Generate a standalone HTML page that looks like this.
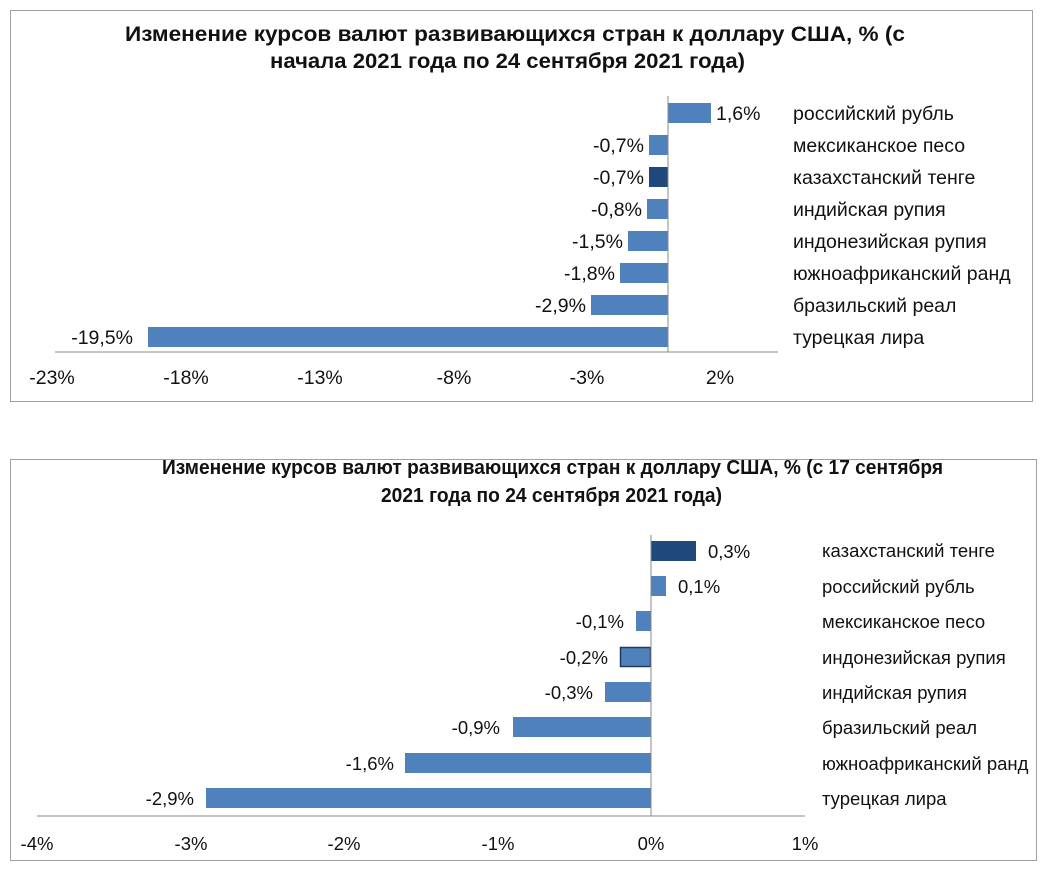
<!DOCTYPE html>
<html><head><meta charset="utf-8"><style>
body{margin:0;background:#fff;width:1044px;height:871px;overflow:hidden}
svg text{font-family:"Liberation Sans",sans-serif;fill:#111}
.a text{font-size:19.5px}
.b text{font-size:18.5px}
text.t{font-family:"Liberation Sans","DejaVu Sans",sans-serif;font-weight:bold;font-size:21px}
</style></head><body>
<svg width="1044" height="871" xmlns="http://www.w3.org/2000/svg">
<g class="a">
<rect x="10.5" y="10.5" width="1022" height="391" fill="#fff" stroke="#a0a0a0"/>
<text class="t" x="125" y="41" textLength="780" lengthAdjust="spacingAndGlyphs">Изменение курсов валют развивающихся стран к доллару США, % (с</text>
<text class="t" x="270" y="68" textLength="475" lengthAdjust="spacingAndGlyphs">начала 2021 года по 24 сентября 2021 года)</text>
<g fill="#4f81bd">
<rect x="668" y="103" width="43" height="20"/>
<rect x="649" y="135" width="19" height="20"/>
<rect x="649" y="167" width="19" height="20" fill="#1f497d"/>
<rect x="647" y="199" width="21" height="20"/>
<rect x="628" y="231" width="40" height="20"/>
<rect x="620" y="263" width="48" height="20"/>
<rect x="591" y="295" width="77" height="20"/>
<rect x="148" y="327" width="520" height="20"/>
</g>
<line x1="668" y1="96" x2="668" y2="352" stroke="#888"/>
<line x1="55" y1="352" x2="778" y2="352" stroke="#888"/>
<text x="716" y="120">1,6%</text>
<g text-anchor="end">
<text x="644" y="152">-0,7%</text><text x="644" y="184">-0,7%</text><text x="642" y="216">-0,8%</text>
<text x="623" y="248">-1,5%</text><text x="615" y="280">-1,8%</text><text x="586" y="312">-2,9%</text><text x="133" y="344">-19,5%</text>
</g>
<text x="793" y="120">российский рубль</text><text x="793" y="152">мексиканское песо</text>
<text x="793" y="184">казахстанский тенге</text><text x="793" y="216">индийская рупия</text>
<text x="793" y="248">индонезийская рупия</text><text x="793" y="280">южноафриканский ранд</text>
<text x="793" y="312">бразильский реал</text><text x="793" y="344">турецкая лира</text>
<g text-anchor="middle">
<text x="52" y="384">-23%</text><text x="186" y="384">-18%</text><text x="320" y="384">-13%</text>
<text x="454" y="384">-8%</text><text x="587" y="384">-3%</text><text x="720" y="384">2%</text>
</g>
</g>

<g class="b">
<rect x="10.5" y="459.5" width="1026" height="401" fill="#fff" stroke="#a0a0a0"/>
<text class="t" x="162" y="474" textLength="781" lengthAdjust="spacingAndGlyphs" style="font-size:20px">Изменение курсов валют развивающихся стран к доллару США,  % (с 17 сентября</text>
<text class="t" x="381" y="502" textLength="341" lengthAdjust="spacingAndGlyphs" style="font-size:20px">2021 года по 24 сентября 2021 года)</text>
<g fill="#4f81bd">
<rect x="651" y="541" width="45" height="20" fill="#1f497d"/>
<rect x="651" y="576" width="15" height="20"/>
<rect x="636" y="611" width="15" height="20"/>
<rect x="620.5" y="647.5" width="30" height="19" stroke="#1f3a5f" stroke-width="1.5"/>
<rect x="605" y="682" width="46" height="20"/>
<rect x="513" y="717" width="138" height="20"/>
<rect x="405" y="753" width="246" height="20"/>
<rect x="206" y="788" width="445" height="20"/>
</g>
<line x1="651" y1="535" x2="651" y2="816" stroke="#888"/>
<line x1="37" y1="816" x2="805" y2="816" stroke="#888"/>
<text x="708" y="558">0,3%</text><text x="678" y="593">0,1%</text>
<g text-anchor="end">
<text x="624" y="628">-0,1%</text><text x="608" y="664">-0,2%</text><text x="593" y="699">-0,3%</text>
<text x="500" y="734">-0,9%</text><text x="394" y="770">-1,6%</text><text x="194" y="805">-2,9%</text>
</g>
<text x="822" y="557">казахстанский тенге</text><text x="822" y="593">российский рубль</text>
<text x="822" y="628">мексиканское песо</text><text x="822" y="664">индонезийская рупия</text>
<text x="822" y="699">индийская рупия</text><text x="822" y="734">бразильский реал</text>
<text x="822" y="770">южноафриканский ранд</text><text x="822" y="805">турецкая лира</text>
<g text-anchor="middle">
<text x="37" y="850">-4%</text><text x="191" y="850">-3%</text><text x="344" y="850">-2%</text>
<text x="498" y="850">-1%</text><text x="651" y="850">0%</text><text x="805" y="850">1%</text>
</g>
</g>
</svg>
</body></html>
